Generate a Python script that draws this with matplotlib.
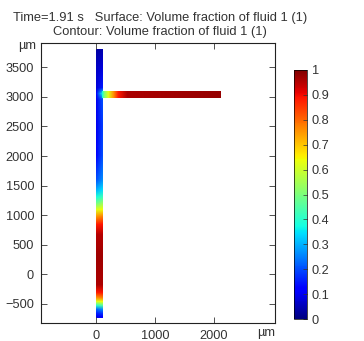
import numpy as np
import matplotlib.pyplot as plt
from matplotlib.image import NonUniformImage
from matplotlib.patches import Rectangle

# volume fraction sampled along the vertical channel (x = 0 and x = 100 um)
vert_y = [-730, -680, -610, -540, -475, -410, -320, -190, 300, 660, 830,
          966, 1085, 1200, 1300, 1420, 1600, 2000, 2500, 2950, 3050, 3150,
          3500, 3813]
vert_left = [0.1, 0.15, 0.22, 0.4, 0.62, 0.75, 0.88, 0.96, 0.97, 0.95, 0.88,
             0.75, 0.62, 0.48, 0.38, 0.3, 0.2, 0.12, 0.1, 0.1, 0.12, 0.08,
             0.06, 0.03]
vert_right = [0.12, 0.17, 0.26, 0.45, 0.64, 0.77, 0.89, 0.96, 0.97, 0.95,
              0.89, 0.77, 0.64, 0.52, 0.42, 0.34, 0.26, 0.2, 0.18, 0.2, 0.36,
              0.15, 0.08, 0.04]

# volume fraction along the horizontal branch (y = 3000 and y = 3100 um)
horiz_x = [100, 135, 203, 288, 373, 525, 2100]
horiz_val = [0.38, 0.5, 0.62, 0.75, 0.88, 0.96, 0.98]

x_ticks = [0, 1000, 2000]
y_ticks = [-500, 0, 500, 1000, 1500, 2000, 2500, 3000, 3500]
cbar_ticks = [0, 0.1, 0.2, 0.3, 0.4, 0.5, 0.6, 0.7, 0.8, 0.9, 1]

plt.rcParams['font.family'] = ['Liberation Sans', 'DejaVu Sans']
fig = plt.figure(figsize=(3.64, 3.41), dpi=100)
ax = fig.add_axes([41 / 364, 18 / 341, 234 / 364, 280 / 341])


def add_channel(x, y, values, x0, x1, y0, y1):
    im = NonUniformImage(ax, interpolation='bilinear', cmap='jet')
    im.set_data(x, y, values)
    im.set_clim(0, 1)
    ax.add_image(im)
    clip = Rectangle((x0, y0), x1 - x0, y1 - y0, transform=ax.transData,
                     facecolor='none', edgecolor='none')
    im.set_clip_path(clip)
    return im


# vertical channel
vy = np.array(vert_y, dtype=float)
vx = np.array([0.0, 100.0])
VC = np.column_stack([vert_left, vert_right])
add_channel(vx, vy, VC, 0, 100, vert_y[0], vert_y[-1])

# horizontal branch
hx = np.array(horiz_x, dtype=float)
hy = np.array([3000.0, 3100.0])
HC = np.vstack([horiz_val, horiz_val])
im_h = add_channel(hx, hy, HC, horiz_x[0], horiz_x[-1], 3000, 3100)

ax.set_xlim(-930, 3035)
ax.set_ylim(-830, 3915)
ax.set_xticks(x_ticks)
ax.set_yticks(y_ticks)
ax.tick_params(direction='in', top=True, right=True, labelsize=9.2,
               colors='#333333', length=4, width=0.6, pad=5)
for s in ax.spines.values():
    s.set_linewidth(0.8)
    s.set_color('#222222')

fig.text(18 / 364, 1 - 46 / 341, 'µm', fontsize=9.2, color='#333333',
         va='center')
fig.text(257 / 364, 1 - 333 / 341, 'µm', fontsize=9.2, color='#333333',
         va='center')

fig.text(160 / 364, 1 - 18 / 341,
         'Time=1.91 s   Surface: Volume fraction of fluid 1 (1)',
         fontsize=9.3, color='#333333', ha='center', va='center')
fig.text(160 / 364, 1 - 32 / 341, 'Contour: Volume fraction of fluid 1 (1)',
         fontsize=9.3, color='#333333', ha='center', va='center')

cax = fig.add_axes([294 / 364, 22 / 341, 13 / 364, 249 / 341])
cb = fig.colorbar(im_h, cax=cax, ticks=cbar_ticks)
cb.ax.set_yticklabels(['0', '0.1', '0.2', '0.3', '0.4', '0.5', '0.6', '0.7',
                       '0.8', '0.9', '1'])
cb.ax.tick_params(labelsize=9.2, colors='#333333', length=3, width=0.5,
                  direction='in')
cb.outline.set_linewidth(0.5)

fig.savefig('out.png', dpi=100)
